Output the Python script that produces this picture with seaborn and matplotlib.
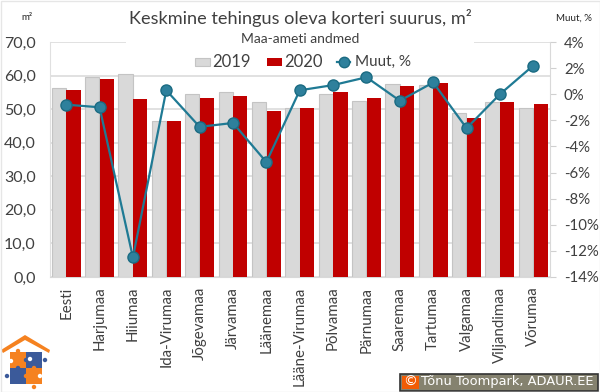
import pandas as pd
import matplotlib
matplotlib.use("Agg")
import matplotlib.pyplot as plt
from matplotlib.patches import Polygon, Rectangle, Circle
from matplotlib.lines import Line2D
import seaborn as sns

maakonnad = ["Eesti", "Harjumaa", "Hiiumaa", "Ida-Virumaa", "Jõgevamaa", "Järvamaa", "Läänemaa",
             "Lääne-Virumaa", "Põlvamaa", "Pärnumaa", "Saaremaa", "Tartumaa", "Valgamaa",
             "Viljandimaa", "Võrumaa"]
y2019 = [56.3, 59.6, 60.6, 46.4, 54.5, 55.0, 52.2, 50.2, 54.5, 52.4, 57.5, 57.3, 49.0, 52.0, 50.4]
y2020 = [55.8, 59.0, 53.0, 46.5, 53.2, 53.9, 49.4, 50.3, 55.0, 53.2, 57.0, 57.8, 47.4, 52.0, 51.4]
muut = [-0.8, -1.0, -12.5, 0.3, -2.5, -2.2, -5.2, 0.3, 0.7, 1.3, -0.5, 0.9, -2.6, 0.0, 2.2]

left_ticks = [0, 10, 20, 30, 40, 50, 60, 70]
right_ticks = [-14, -12, -10, -8, -6, -4, -2, 0, 2, 4]

W, H = 600, 392
TXT = "#404040"
plt.rcParams['font.family'] = ['Lato', 'DejaVu Sans']

df = pd.DataFrame({"maakond": maakonnad * 2,
                   "aasta": ["2019"] * 15 + ["2020"] * 15,
                   "suurus": y2019 + y2020})

fig = plt.figure(figsize=(W / 100, H / 100), dpi=100)
ax = fig.add_axes([49.5 / W, 1 - 277 / H, 500.5 / W, 235 / H])

sns.barplot(data=df, x="maakond", y="suurus", hue="aasta", hue_order=["2019", "2020"],
            palette=["#d9d9d9", "#c00000"], width=0.88, gap=0.03, saturation=1, legend=False,
            ax=ax, zorder=3)
for b in ax.containers[0]:
    b.set_edgecolor("#c4c4c4")
    b.set_linewidth(0.8)

ax.set_ylim(0, 70)
ax.set_xlim(-0.5, 14.5)
ax.set_yticks(left_ticks)
ax.set_yticklabels([f"{v},0" for v in left_ticks], fontsize=11.5, color=TXT)
ax.set_xticks(range(len(maakonnad)))
ax.set_xticklabels(maakonnad, rotation=90, fontsize=10.8, color=TXT)
ax.set_xlabel("")
ax.set_ylabel("")
ax.tick_params(axis="x", length=0, pad=7)
ax.tick_params(axis="y", length=0, pad=10)
ax.grid(axis="y", color="#dcdcdc", lw=1.2, zorder=0)
ax.set_axisbelow(True)
for s in ["top", "right"]:
    ax.spines[s].set_visible(False)
ax.spines["left"].set_color("#e0e0e0")
ax.spines["bottom"].set_color("#d9d9d9")

ax2 = ax.twinx()
sns.lineplot(x=list(range(15)), y=muut, ax=ax2, color="#1f7a94", lw=1.6, marker="o", ms=8,
             markerfacecolor="#2e809c", markeredgecolor="#1b6b82", markeredgewidth=1, zorder=5)
ax2.set_ylim(-14, 4)
ax2.set_yticks(right_ticks)
ax2.set_yticklabels([f"{v}%" for v in right_ticks], fontsize=10.8, color=TXT)
ax2.tick_params(axis="y", length=4, color="#d0d0d0", pad=6)
for s in ["top", "left", "bottom"]:
    ax2.spines[s].set_visible(False)
ax2.spines["right"].set_color("#d9d9d9")

# white box behind title and legend cuts the top gridline
ax_top = fig.add_axes([126 / W, 1 - 46 / H, 348 / W, 8 / H], zorder=1)
ax_top.axis("off")
ax_top.add_patch(Rectangle((0, 0), 1, 1, transform=ax_top.transAxes, fc="white", ec="none"))

fig.text(300 / W, 1 - 18 / H, "Keskmine tehingus oleva korteri suurus, m²", fontsize=13.1, color=TXT,
         ha="center", va="center")
fig.text(300 / W, 1 - 39 / H, "Maa-ameti andmed", fontsize=10, color=TXT, ha="center", va="center")
fig.text(27 / W, 1 - 18 / H, "m²", fontsize=7, color="#222222", ha="center", va="center")
fig.text(574 / W, 1 - 18 / H, "Muut, %", fontsize=7, color="#222222", ha="center", va="center")

# legend
def lx(p):
    return p / W
def ly(p):
    return 1 - p / H
fig.add_artist(Rectangle((lx(195), ly(66)), 15 / W, 8 / H, fc="#d9d9d9", ec="#c4c4c4", lw=0.8))
fig.text(lx(212), ly(62), "2019", fontsize=12, color=TXT, va="center")
fig.add_artist(Rectangle((lx(267), ly(66)), 15 / W, 8 / H, fc="#c00000", ec="none"))
fig.text(lx(284), ly(62), "2020", fontsize=12, color=TXT, va="center")
fig.add_artist(Line2D([lx(337), lx(350)], [ly(62), ly(62)], color="#1f7a94", lw=1.6))
fig.add_artist(Line2D([lx(344)], [ly(62)], marker="o", ms=7.5, mfc="#2e809c", mec="#1b6b82", lw=0))
fig.text(lx(355), ly(62), "Muut, %", fontsize=11, color=TXT, va="center")

# house logo
logo = fig.add_axes([0, 0, 52 / W, 60 / H])
logo.set_xlim(0, 52)
logo.set_ylim(60, 0)
logo.axis("off")
logo.add_patch(Polygon([[1, 18], [25, 3], [50, 18], [49, 21], [25, 8], [3, 21]], fc="#f58220", ec="none"))
logo.add_patch(Rectangle((10, 20), 16, 16, fc="#f58220"))
logo.add_patch(Rectangle((26, 20), 16, 16, fc="#3b5a9a"))
logo.add_patch(Rectangle((10, 36), 16, 16, fc="#3b5a9a"))
logo.add_patch(Rectangle((26, 36), 16, 16, fc="#f58220"))
for (cx, cy, c) in [(18, 19, "#f58220"), (45, 28, "#3b5a9a"), (7, 44, "#3b5a9a"), (34, 55, "#f58220"),
                    (26, 28, "#3b5a9a"), (26, 44, "#f58220"), (18, 36, "#3b5a9a"), (34, 36, "#f58220")]:
    logo.add_patch(Circle((cx, cy), 2.2, fc=c, ec="none"))
for (cx, cy) in [(11, 29), (40, 44), (30, 27)]:
    logo.add_patch(Circle((cx, cy), 2.2, fc="white", ec="none"))

# copyright plate
fig.add_artist(Rectangle((lx(399.5), ly(390.5)), 198 / W, 17 / H, fc="#85826f", ec="#333333", lw=1.2))
fig.add_artist(Rectangle((lx(402), ly(388.5)), 17 / W, 13 / H, fc="#f25c05", ec="none"))
fig.text(lx(410.5), ly(382), "©", fontsize=10, color="white", ha="center", va="center", family="DejaVu Sans")
fig.text(lx(421), ly(382), "Tõnu Toompark, ADAUR.EE", fontsize=9.4, color="white", va="center",
         family="DejaVu Sans")

# thin frame of the picture
fig.add_artist(Rectangle((0.5 / W, 0.5 / H), 599 / W, 391 / H, fc="none", ec="#e6e6e6", lw=1))

fig.savefig("out.png", dpi=100)
